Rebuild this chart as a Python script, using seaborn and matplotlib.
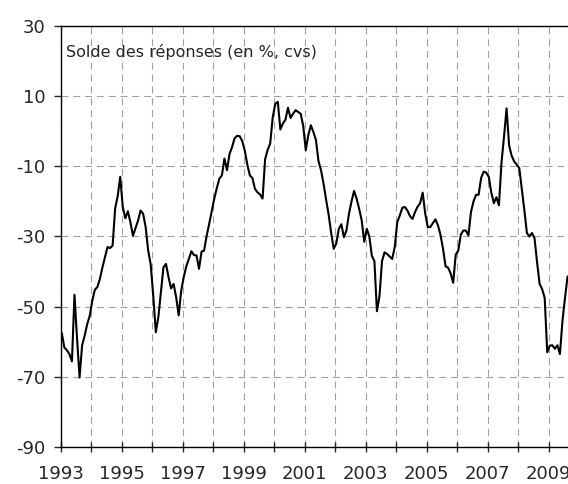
import pandas as pd
import matplotlib
matplotlib.use('Agg')
import matplotlib.pyplot as plt
import seaborn as sns

# solde des réponses, mensuel, janv. 1993 -> août 2009
solde = [
    -57.5, -61.6, -62.4, -63.5, -65.6, -46.6, -59.0, -70.2, -61.0, -58.3, -55.0, -52.6,  # 1993
    -48.3, -45.2, -44.4, -42.1, -38.8, -35.9, -33.0, -33.3, -32.6, -22.0, -18.5, -13.0,  # 1994
    -21.6, -24.8, -22.8, -25.9, -29.8, -27.6, -25.5, -22.6, -23.5, -27.3, -34.0, -38.0,  # 1995
    -47.0, -57.3, -53.0, -46.0, -38.8, -37.8, -41.6, -44.8, -43.5, -47.3, -52.5, -45.4,  # 1996
    -41.5, -38.5, -36.4, -34.2, -35.3, -35.4, -39.2, -34.3, -34.0, -29.8, -26.4, -22.8,  # 1997
    -19.2, -16.2, -13.5, -12.6, -7.8, -11.1, -6.5, -4.5, -2.0, -1.3, -1.4, -2.8,  # 1998
    -5.5, -9.5, -12.6, -13.3, -16.4, -17.4, -18.0, -19.2, -8.0, -5.3, -3.5, 4.0,  # 1999
    7.8, 8.4, 0.5, 2.2, 3.3, 6.7, 3.8, 5.0, 6.0, 5.5, 5.0, 1.5,  # 2000
    -5.4, -1.1, 1.7, -0.2, -2.5, -8.5, -11.1, -15.0, -19.5, -23.8, -29.0, -33.5,  # 2001
    -32.0, -27.8, -26.5, -30.2, -28.3, -23.5, -20.0, -17.0, -19.2, -22.1, -25.4, -31.5,  # 2002
    -27.8, -30.0, -35.5, -37.0, -51.3, -47.0, -37.0, -34.5, -35.0, -35.7, -36.4, -33.0,  # 2003
    -25.9, -24.0, -21.8, -21.6, -22.6, -24.2, -25.0, -23.0, -21.5, -20.5, -17.5, -23.5,  # 2004
    -27.3, -27.3, -26.2, -25.1, -26.8, -29.5, -33.5, -38.5, -38.9, -40.5, -43.2, -35.2,  # 2005
    -34.0, -29.5, -28.3, -28.3, -29.7, -23.0, -20.0, -18.1, -18.1, -13.3, -11.5, -11.8,  # 2006
    -13.0, -17.5, -20.5, -18.8, -21.1, -9.0, -1.5, 6.5, -4.0, -7.0, -8.6, -9.5,  # 2007
    -10.5, -16.4, -22.5, -29.0, -30.0, -29.0, -30.5, -37.3, -43.5, -45.0, -47.5, -63.0,  # 2008
    -61.1, -61.0, -62.0, -61.0, -63.5, -54.0, -47.5, -41.4,  # 2009
]
y_ticks = [-90, -70, -50, -30, -10, 10, 30]
year_ticks = list(range(1993, 2010))
year_labels = [str(y) if y % 2 == 1 else '' for y in year_ticks]
note = 'Solde des réponses (en %, cvs)'

dates = pd.date_range('1993-01-01', periods=len(solde), freq='MS')
df = pd.DataFrame({'annee': dates.year + (dates.month - 0.5) / 12, 'solde': solde})

sns.set_style('white')
plt.rcParams['font.family'] = ['DejaVu Sans']
plt.rcParams['lines.scale_dashes'] = False
plt.rcParams['axes.unicode_minus'] = False

fig = plt.figure(figsize=(5.68, 4.84), dpi=100)
ax = fig.add_axes([60.5 / 568, 37 / 484, 1 - 60.5 / 568, 421 / 484])

sns.lineplot(data=df, x='annee', y='solde', color='black', linewidth=1.5, ax=ax)

ax.set_xlim(1993, 1993 + (568 - 60.5) / 30.5)
ax.set_ylim(-90, 30)
ax.set_yticks(y_ticks)
ax.set_xticks(year_ticks)
ax.set_xticklabels(year_labels)
ax.set_xlabel('')
ax.set_ylabel('')

ax.grid(True, color='#a0a0a0', linestyle=(0, (5, 3.5)), linewidth=0.8)
ax.set_axisbelow(True)

for side in ['left', 'bottom', 'top']:
    ax.spines[side].set_visible(True)
    ax.spines[side].set_color('black')
    ax.spines[side].set_linewidth(1.0)
ax.spines['right'].set_visible(False)

ax.tick_params(axis='y', direction='out', length=5, width=1, pad=6, labelsize=13, left=True)
ax.tick_params(axis='x', direction='inout', length=7.5, width=1, pad=9.5, labelsize=13, bottom=True)

ax.annotate(note, xy=(0, 1), xycoords='axes fraction', xytext=(6, -26),
            textcoords='offset pixels', ha='left', va='center', fontsize=11.5)

fig.savefig('out.png', dpi=100)
